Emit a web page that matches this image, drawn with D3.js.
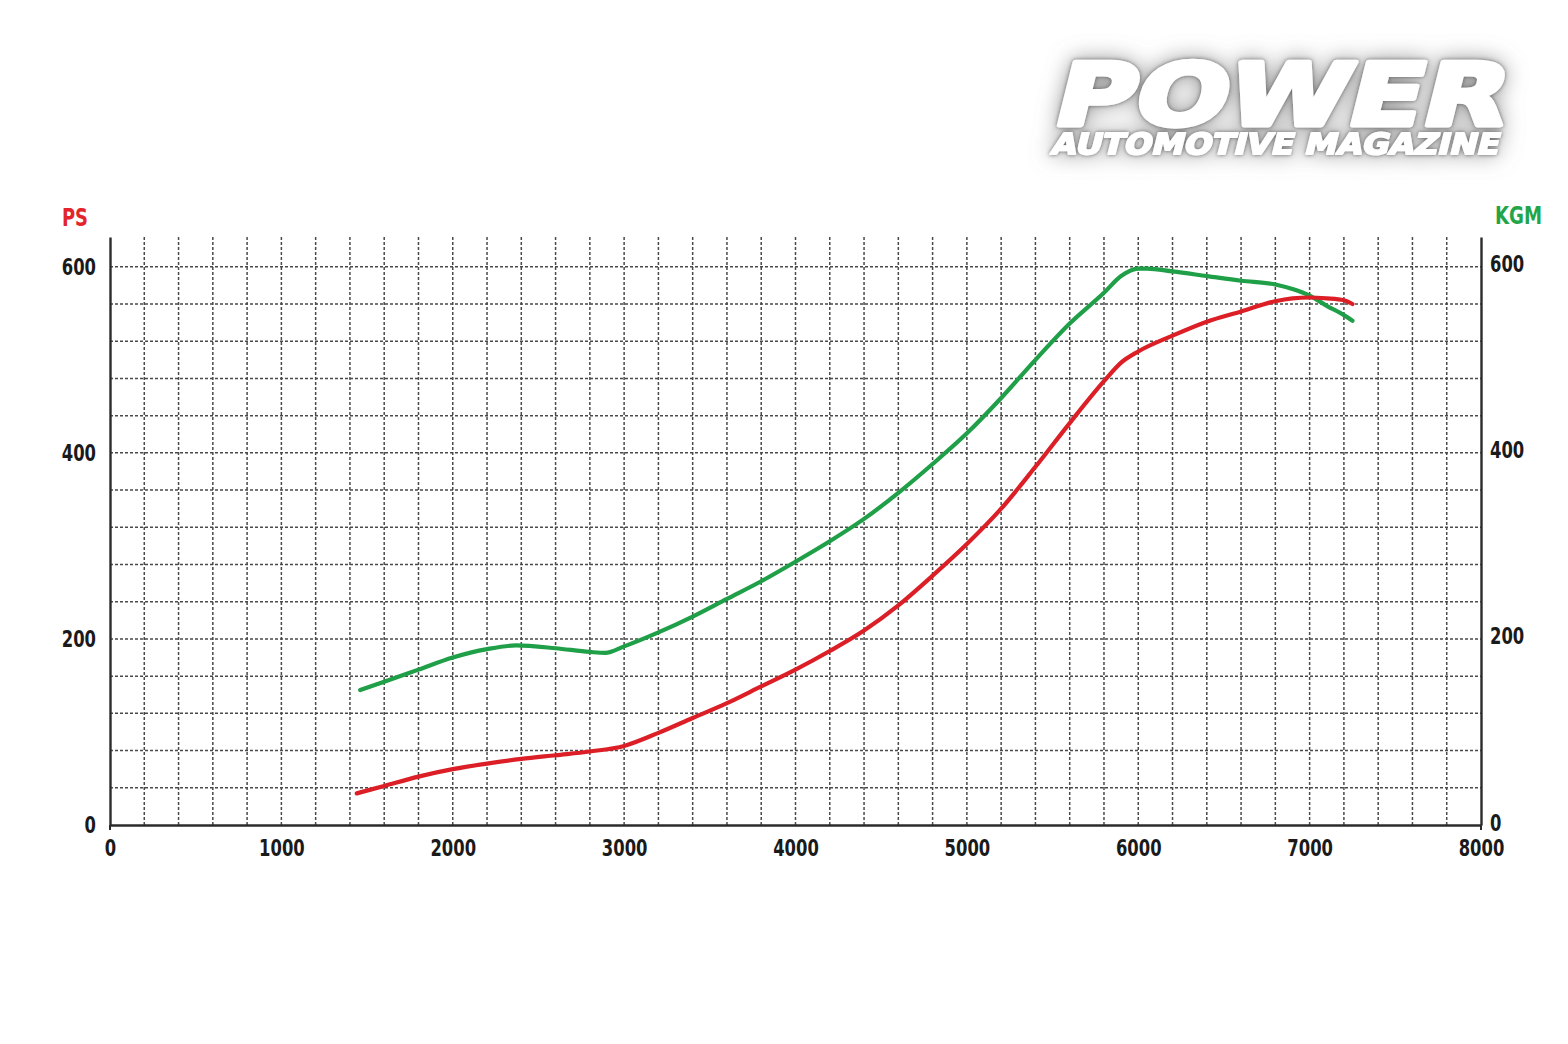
<!DOCTYPE html>
<meta charset="utf-8">
<style>
  body { margin: 0; background: #fff; }
  text { font-family: "DejaVu Sans Condensed", "DejaVu Sans", sans-serif; font-weight: bold; }
</style>
<svg width="1568" height="1044"></svg>
<script src="https://d3js.org/d3.v7.min.js"></script>
<script>

// readings off the dyno sheet: rpm -> value
var psRpm    = [1440, 1600, 1800, 2000, 2200, 2400, 2600, 2800, 3000, 3200, 3400, 3600, 3800, 4000, 4200, 4400, 4600, 4800, 5000, 5200, 5400, 5600, 5800, 5900, 6000, 6200, 6400, 6600, 6800, 6900, 7000, 7100, 7200, 7250]
var psValues = [34, 42, 52, 60, 66, 71, 75, 79, 85, 99, 115, 131, 149, 167, 187, 209, 236, 268, 302, 340, 385, 432, 477, 497, 509, 526, 541, 552, 563, 566, 567, 566, 564, 560]

var kgmRpm    = [1460, 1600, 1800, 2000, 2200, 2370, 2600, 2800, 2890, 3000, 3200, 3400, 3600, 3800, 4000, 4200, 4400, 4600, 4800, 5000, 5200, 5400, 5600, 5800, 5900, 6000, 6050, 6200, 6400, 6600, 6800, 6900, 7000, 7100, 7200, 7250]
var kgmValues = [145, 154, 167, 180, 189, 193, 190, 186, 185, 192, 207, 224, 243, 262, 283, 305, 329, 357, 388, 421, 459, 500, 539, 572, 590, 598, 598, 595, 590, 585, 581, 576, 569, 558, 548, 542]

var xTicks = [0, 1000, 2000, 3000, 4000, 5000, 6000, 7000, 8000]
var yTicks = [0, 200, 400, 600]

var svg = d3.select('svg')

var x = d3.scaleLinear().domain([0, 8000]).range([110, 1481])
var y = d3.scaleLinear().domain([0, 632]).range([825, 237])

// ---- logo ----
var defs = svg.append('defs')
var halo = defs.append('filter').attr('id', 'halo')
  .attr('x', '-20%').attr('y', '-60%').attr('width', '140%').attr('height', '220%')
halo.append('feGaussianBlur').attr('in', 'SourceAlpha').attr('stdDeviation', 11).attr('result', 'b1')
halo.append('feFlood').attr('flood-color', '#808080').attr('flood-opacity', 0.85)
halo.append('feComposite').attr('in2', 'b1').attr('operator', 'in').attr('result', 's1')
halo.append('feGaussianBlur').attr('in', 'SourceAlpha').attr('stdDeviation', 2).attr('result', 'b2')
halo.append('feFlood').attr('flood-color', '#404040').attr('flood-opacity', 0.8)
halo.append('feComposite').attr('in2', 'b2').attr('operator', 'in').attr('result', 's2')
var m = halo.append('feMerge')
m.append('feMergeNode').attr('in', 's1')
m.append('feMergeNode').attr('in', 's2')
m.append('feMergeNode').attr('in', 'SourceGraphic')

var logo = svg.append('g').attr('filter', 'url(#halo)')
logo.append('text')
  .attr('transform', 'translate(1050,125) skewX(-14)')
  .attr('textLength', 452).attr('lengthAdjust', 'spacingAndGlyphs')
  .style('font-family', '"DejaVu Sans", sans-serif')
  .attr('font-size', 86)
  .attr('fill', '#fff').attr('stroke', '#fff').attr('stroke-width', 5).attr('stroke-linejoin', 'round')
  .text('POWER')
logo.append('text')
  .attr('transform', 'translate(1050,154) skewX(-14)')
  .attr('textLength', 448).attr('lengthAdjust', 'spacingAndGlyphs')
  .style('font-family', '"DejaVu Sans", sans-serif')
  .attr('font-size', 29)
  .attr('fill', '#fff').attr('stroke', '#fff').attr('stroke-width', 2).attr('stroke-linejoin', 'round')
  .text('AUTOMOTIVE MAGAZINE')

// ---- grid ----
var grid = svg.append('g')
  .attr('stroke', '#4a4a4a').attr('stroke-width', 1.5).attr('stroke-dasharray', '3,2')

grid.selectAll('line.v')
  .data(d3.range(200, 8000, 200))
  .enter().append('line')
    .attr('x1', function (d) { return x(d) })
    .attr('x2', function (d) { return x(d) })
    .attr('y1', y(0))
    .attr('y2', y(632))

grid.selectAll('line.h')
  .data(d3.range(40, 601, 40))
  .enter().append('line')
    .attr('x1', x(0))
    .attr('x2', x(8000))
    .attr('y1', function (d) { return y(d) })
    .attr('y2', function (d) { return y(d) })

// ---- axes ----
var fmt = d3.format('d')
var xAxis = d3.axisBottom(x).tickValues(xTicks).tickFormat(fmt).tickSize(0).tickPadding(15)
var leftAxis = d3.axisLeft(y).tickValues(yTicks).tickFormat(fmt).tickSize(0).tickPadding(14)
var rightAxis = d3.axisRight(y).tickValues(yTicks).tickFormat(fmt).tickSize(0).tickPadding(9)

function styleAxis(g) {
  g.select('.domain').attr('stroke', '#2b2b2b').attr('stroke-width', 2.4)
  g.selectAll('text').attr('fill', '#1a1a1a').attr('font-size', 23)
    .attr('textLength', function (d) { return fmt(d).length * 11.4 })
    .attr('lengthAdjust', 'spacingAndGlyphs')
}

svg.append('g').attr('transform', 'translate(0,' + y(0) + ')').call(xAxis).call(styleAxis)
svg.append('g').attr('transform', 'translate(' + x(0) + ',0)').call(leftAxis).call(styleAxis)
svg.append('g').attr('transform', 'translate(' + x(8000) + ',0)').call(rightAxis).call(styleAxis)
  .selectAll('text').attr('dy', '0.22em')

// small end ticks on the base line
svg.append('g').attr('stroke', '#2b2b2b').attr('stroke-width', 2)
  .selectAll('line').data([0, 8000]).enter().append('line')
    .attr('x1', function (d) { return x(d) }).attr('x2', function (d) { return x(d) })
    .attr('y1', y(0)).attr('y2', y(0) + 5)

// axis titles
svg.append('text').attr('x', 62).attr('y', 226).attr('font-size', 24)
  .attr('textLength', 26).attr('lengthAdjust', 'spacingAndGlyphs')
  .attr('fill', '#e3252b').text('PS')
svg.append('text').attr('x', 1495).attr('y', 224).attr('font-size', 24)
  .attr('textLength', 47).attr('lengthAdjust', 'spacingAndGlyphs')
  .attr('fill', '#21a548').text('KGM')

// ---- curves ----
var line = d3.line()
  .x(function (d) { return x(d[0]) })
  .y(function (d) { return y(d[1]) })
  .curve(d3.curveMonotoneX)

svg.append('path')
  .datum(kgmRpm.map(function (r, i) { return [r, kgmValues[i]] }))
  .attr('fill', 'none').attr('stroke', '#1f9f47').attr('stroke-width', 4.2)
  .attr('stroke-linecap', 'round').attr('stroke-linejoin', 'round')
  .attr('d', line)

svg.append('path')
  .datum(psRpm.map(function (r, i) { return [r, psValues[i]] }))
  .attr('fill', 'none').attr('stroke', '#dc1f26').attr('stroke-width', 4.2)
  .attr('stroke-linecap', 'round').attr('stroke-linejoin', 'round')
  .attr('d', line)

</script>
